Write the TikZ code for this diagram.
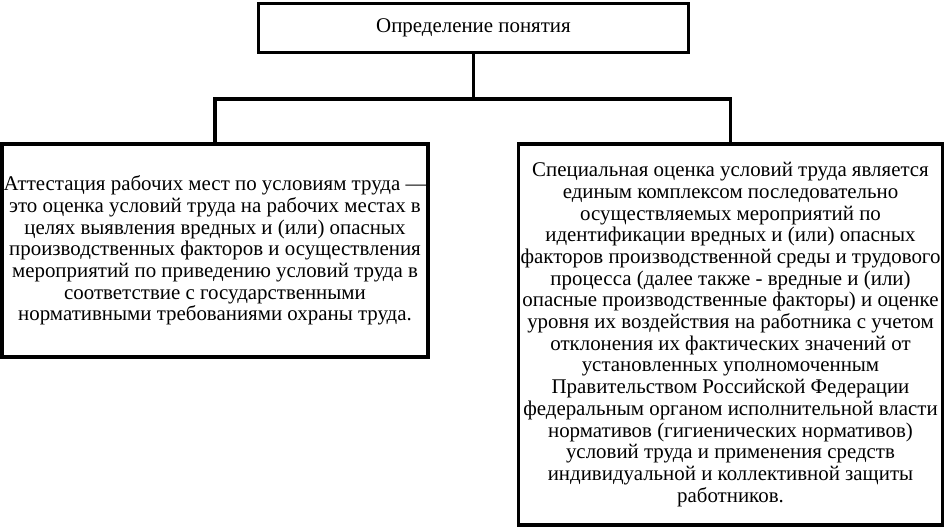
\documentclass[tikz,border=0pt]{standalone}
\usepackage{fontspec}
\setmainfont{Liberation Serif}
\begin{document}
\begin{tikzpicture}[x=1pt,y=-1pt,
  box/.style={draw=black,line width=3.5pt,rectangle,inner sep=0pt,align=center,
    font=\fontsize{20.9}{21.7}\selectfont},
  link/.style={draw=black,line width=3.5pt,line join=miter}]
\useasboundingbox (0,0) rectangle (946,527);
\node[box,minimum width=430pt,minimum height=49pt] (top) at (473.5,28) {Определение понятия};
\node[box,minimum width=426pt,minimum height=213pt] (left) at (215,250.5)
 {Аттестация рабочих мест по условиям труда —\\
  это оценка условий труда на рабочих местах в\\
  целях выявления вредных и (или) опасных\\
  производственных факторов и осуществления\\
  мероприятий по приведению условий труда в\\
  соответствие с государственными\\
  нормативными требованиями охраны труда.};
\node[box,minimum width=424pt,minimum height=381pt] (right) at (730.5,334.5)
 {Специальная оценка условий труда является\\
  единым комплексом последовательно\\
  осуществляемых мероприятий по\\
  идентификации вредных и (или) опасных\\
  факторов производственной среды и трудового\\
  процесса (далее также - вредные и (или)\\
  опасные производственные факторы) и оценке\\
  уровня их воздействия на работника с учетом\\
  отклонения их фактических значений от\\
  установленных уполномоченным\\
  Правительством Российской Федерации\\
  федеральным органом исполнительной власти\\
  нормативов (гигиенических нормативов)\\
  условий труда и применения средств\\
  индивидуальной и коллективной защиты\\
  работников.};
\coordinate (j) at (473.5,99);
\draw[link] (top.south) -- (j);
\draw[link] (left.north) |- (j) -| (right.north);
\end{tikzpicture}
\end{document}
